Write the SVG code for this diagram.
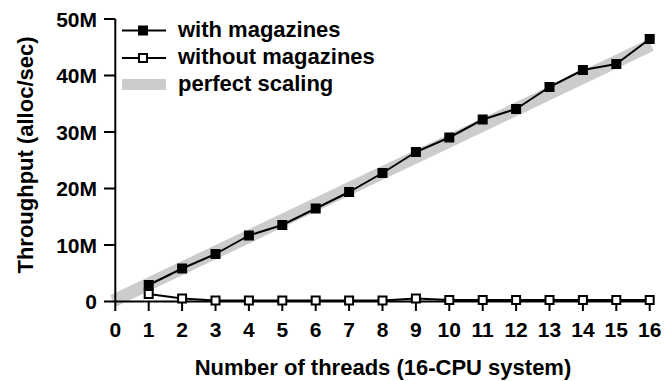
<svg xmlns="http://www.w3.org/2000/svg" width="666" height="381" viewBox="0 0 666 381">
  <style>
    text { font-family: "Liberation Sans", Arial, sans-serif; font-weight: bold; fill: #000; }
    .tick { font-size: 21px; }
    .title { font-size: 22px; }
    .legend { font-size: 22px; }
    .axis { stroke: #000; stroke-width: 2; fill: none; }
    .series { stroke: #000; stroke-width: 2; fill: none; stroke-linejoin: round; }
    .band { stroke: #cccccc; stroke-width: 13; fill: none; }
  </style>
  <defs>
    <rect id="filled" x="-5" y="-5" width="10" height="10" fill="#000"/>
    <rect id="hollow" x="-4" y="-4" width="8" height="8" fill="#fff" stroke="#000" stroke-width="2"/>
  </defs>
  <rect width="666" height="381" fill="#fff"/>

  <!-- ideal linear scaling band -->
  <g id="perfect-scaling">
    <line class="band" x1="113" y1="301" x2="651" y2="45"/>
  </g>

  <!-- axes and ticks -->
  <g id="axes">
    <path class="axis" d="M115.3 19 V311 M104 301.5 H650"/>
    <path class="axis" d="M104 19 H115.3 M104 75.5 H115.3 M104 132 H115.3 M104 188.5 H115.3 M104 245 H115.3"/>
    <path class="axis" d="M148.7 301.5 V311 M182.1 301.5 V311 M215.5 301.5 V311 M248.9 301.5 V311 M282.3 301.5 V311 M315.7 301.5 V311 M349.1 301.5 V311 M382.5 301.5 V311 M415.9 301.5 V311 M449.3 301.5 V311 M482.7 301.5 V311 M516.1 301.5 V311 M549.5 301.5 V311 M582.9 301.5 V311 M616.3 301.5 V311 M649.7 301.5 V311"/>
  </g>

  <g id="y-labels" text-anchor="end">
    <text class="tick" x="97" y="27">50M</text>
    <text class="tick" x="97" y="83">40M</text>
    <text class="tick" x="97" y="139.5">30M</text>
    <text class="tick" x="97" y="196">20M</text>
    <text class="tick" x="97" y="252.5">10M</text>
    <text class="tick" x="97" y="309">0</text>
  </g>

  <g id="x-labels" text-anchor="middle">
    <text class="tick" x="115.3" y="337">0</text>
    <text class="tick" x="148.7" y="337">1</text>
    <text class="tick" x="182.1" y="337">2</text>
    <text class="tick" x="215.5" y="337">3</text>
    <text class="tick" x="248.9" y="337">4</text>
    <text class="tick" x="282.3" y="337">5</text>
    <text class="tick" x="315.7" y="337">6</text>
    <text class="tick" x="349.1" y="337">7</text>
    <text class="tick" x="382.5" y="337">8</text>
    <text class="tick" x="415.9" y="337">9</text>
    <text class="tick" x="449.3" y="337">10</text>
    <text class="tick" x="482.7" y="337">11</text>
    <text class="tick" x="516.1" y="337">12</text>
    <text class="tick" x="549.5" y="337">13</text>
    <text class="tick" x="582.9" y="337">14</text>
    <text class="tick" x="616.3" y="337">15</text>
    <text class="tick" x="649.7" y="337">16</text>
  </g>

  <g id="axis-titles">
    <text class="title" x="383" y="375" text-anchor="middle">Number of threads (16-CPU system)</text>
    <text class="title" transform="translate(33 155) rotate(-90)" text-anchor="middle">Throughput (alloc/sec)</text>
  </g>

  <!-- series without magazines -->
  <g id="without-magazines">
    <polyline class="series" points="148.7,294 182.1,298.5 215.5,300.5 248.9,300.5 282.3,300.5 315.7,300.5 349.1,300.5 382.5,300.5 415.9,298.5 449.3,300 482.7,300 516.1,300 549.5,300 582.9,300 616.3,300 649.7,300"/>
    <use href="#hollow" x="148.7" y="294"/>
    <use href="#hollow" x="182.1" y="298.5"/>
    <use href="#hollow" x="215.5" y="300.5"/>
    <use href="#hollow" x="248.9" y="300.5"/>
    <use href="#hollow" x="282.3" y="300.5"/>
    <use href="#hollow" x="315.7" y="300.5"/>
    <use href="#hollow" x="349.1" y="300.5"/>
    <use href="#hollow" x="382.5" y="300.5"/>
    <use href="#hollow" x="415.9" y="298.5"/>
    <use href="#hollow" x="449.3" y="300"/>
    <use href="#hollow" x="482.7" y="300"/>
    <use href="#hollow" x="516.1" y="300"/>
    <use href="#hollow" x="549.5" y="300"/>
    <use href="#hollow" x="582.9" y="300"/>
    <use href="#hollow" x="616.3" y="300"/>
    <use href="#hollow" x="649.7" y="300"/>
  </g>

  <!-- series with magazines -->
  <g id="with-magazines">
    <polyline class="series" points="148.7,285 182.1,268.5 215.5,254 248.9,235.5 282.3,225 315.7,208.5 349.1,192 382.5,173 415.9,152 449.3,137.5 482.7,119.5 516.1,109 549.5,87 582.9,70 616.3,64 649.7,39"/>
    <use href="#filled" x="148.7" y="285"/>
    <use href="#filled" x="182.1" y="268.5"/>
    <use href="#filled" x="215.5" y="254"/>
    <use href="#filled" x="248.9" y="235.5"/>
    <use href="#filled" x="282.3" y="225"/>
    <use href="#filled" x="315.7" y="208.5"/>
    <use href="#filled" x="349.1" y="192"/>
    <use href="#filled" x="382.5" y="173"/>
    <use href="#filled" x="415.9" y="152"/>
    <use href="#filled" x="449.3" y="137.5"/>
    <use href="#filled" x="482.7" y="119.5"/>
    <use href="#filled" x="516.1" y="109"/>
    <use href="#filled" x="549.5" y="87"/>
    <use href="#filled" x="582.9" y="70"/>
    <use href="#filled" x="616.3" y="64"/>
    <use href="#filled" x="649.7" y="39"/>
  </g>

  <!-- legend -->
  <g id="legend">
    <line class="series" x1="122" y1="30.5" x2="166" y2="30.5"/>
    <use href="#filled" x="143" y="30.5"/>
    <text class="legend" x="178" y="37">with magazines</text>
    <line class="series" x1="122" y1="58" x2="166" y2="58"/>
    <use href="#hollow" x="143" y="58"/>
    <text class="legend" x="178" y="64">without magazines</text>
    <rect x="122" y="79" width="44" height="11" fill="#cccccc"/>
    <text class="legend" x="178" y="91">perfect scaling</text>
  </g>
</svg>
